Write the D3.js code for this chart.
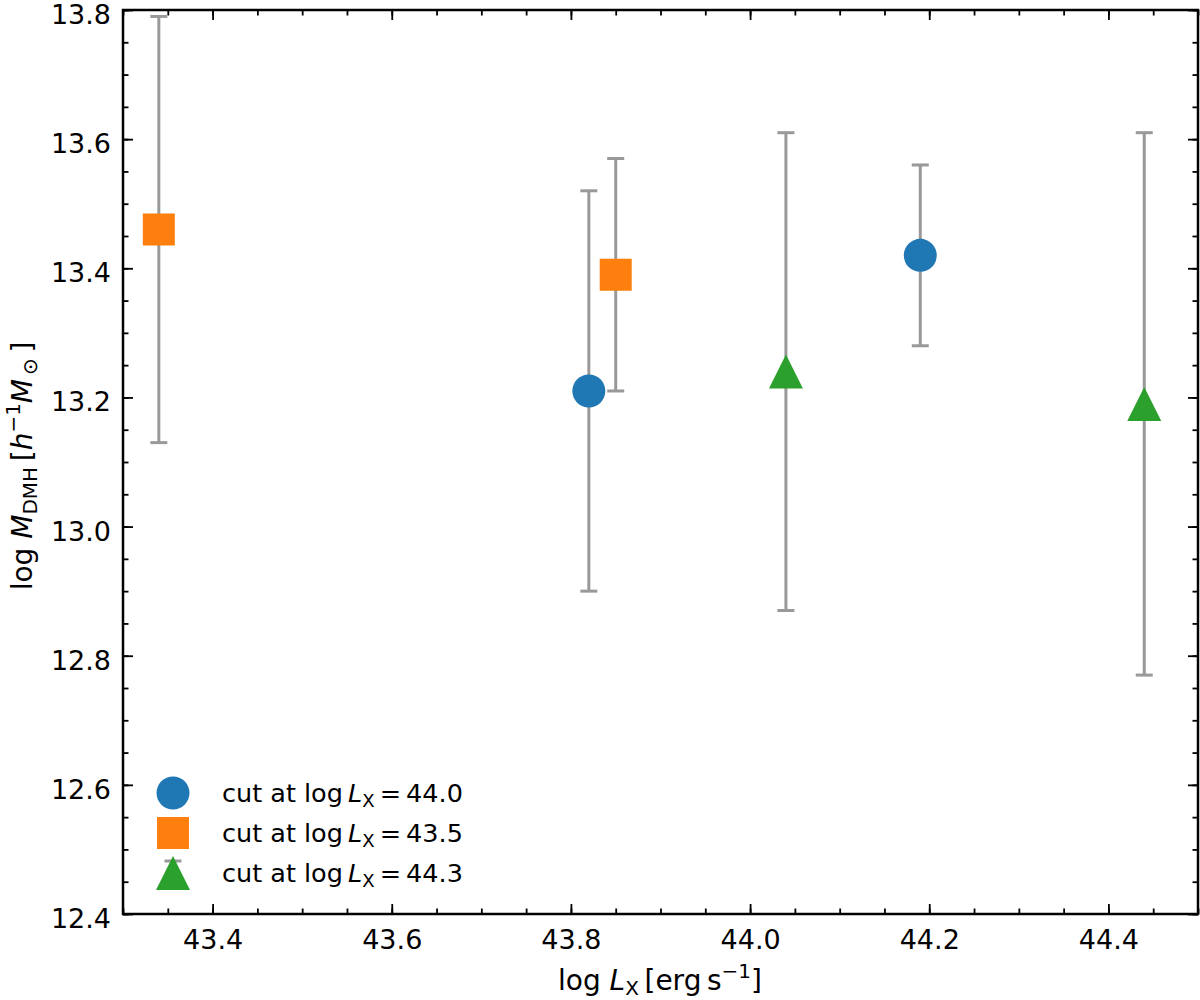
<!DOCTYPE html>
<html>
<head>
<meta charset="utf-8">
<script src="https://cdn.jsdelivr.net/npm/d3@7"></script>
<style>
  body { margin: 0; background: #fff; }
  svg text { font-family: "DejaVu Sans", sans-serif; fill: #000; }
</style>
</head>
<body>
<div id="chart"></div>
<script>
// data
var cutValues = ["44.0", "43.5", "44.3"];
var markers = ["circle", "square", "triangle"];
var colors = ["#1f77b4", "#ff7f0e", "#2ca02c"];

var blueX = [43.82, 44.19];
var blueY = [13.21, 13.42];
var blueLo = [12.90, 13.28];
var blueHi = [13.52, 13.56];

var orangeX = [43.34, 43.85];
var orangeY = [13.46, 13.39];
var orangeLo = [13.13, 13.21];
var orangeHi = [13.79, 13.57];

var greenX = [44.04, 44.44];
var greenY = [13.24, 13.19];
var greenLo = [12.87, 12.77];
var greenHi = [13.61, 13.61];

var xTicks = [43.4, 43.6, 43.8, 44.0, 44.2, 44.4];
var yTicks = [12.4, 12.6, 12.8, 13.0, 13.2, 13.4, 13.6, 13.8];

var W = 1200, H = 1000;
var pL = 123, pR = 1198, pT = 10, pB = 914;

var svg = d3.select("#chart").append("svg").attr("width", W).attr("height", H);

var x = d3.scaleLinear().domain([43.3, 44.5]).range([pL, pR]);
var y = d3.scaleLinear().domain([12.4, 13.8]).range([pB, pT]);

var xMinor = d3.range(43.3, 44.5001, 0.05).map(function(d){ return +d.toFixed(2); });
var yMinor = d3.range(12.4, 13.8001, 0.05).map(function(d){ return +d.toFixed(2); });

// axes, ticks pointing inward on all four sides
function axisGroup(axis, tx, ty) {
  var g = svg.append("g").attr("transform", "translate(" + tx + "," + ty + ")").call(axis);
  g.select(".domain").remove();
  g.selectAll("line").attr("stroke", "#000").attr("stroke-width", 1.8);
  return g;
}
var maj = 10, mnr = 5.5;
axisGroup(d3.axisBottom(x).tickValues(xMinor).tickSize(-mnr).tickFormat(""), 0, pB);
axisGroup(d3.axisTop(x).tickValues(xMinor).tickSize(-mnr).tickFormat(""), 0, pT);
axisGroup(d3.axisLeft(y).tickValues(yMinor).tickSize(-mnr).tickFormat(""), pL, 0);
axisGroup(d3.axisRight(y).tickValues(yMinor).tickSize(-mnr).tickFormat(""), pR, 0);

var gx = axisGroup(d3.axisBottom(x).tickValues(xTicks).tickSize(-maj).tickFormat(d3.format(".1f")), 0, pB);
gx.selectAll("text").attr("font-size", 27).attr("font-family", "DejaVu Sans").attr("dy", null).attr("y", 35);
axisGroup(d3.axisTop(x).tickValues(xTicks).tickSize(-maj).tickFormat(""), 0, pT);
var gy = axisGroup(d3.axisLeft(y).tickValues(yTicks).tickSize(-maj).tickFormat(d3.format(".1f")), pL, 0);
gy.selectAll("text").attr("font-size", 27).attr("font-family", "DejaVu Sans").attr("x", -12).attr("dy", "0.5em");
axisGroup(d3.axisRight(y).tickValues(yTicks).tickSize(-maj).tickFormat(""), pR, 0);

// error bars and markers
var capW = 8.5;
var sym = {
  circle: d3.symbol().type(d3.symbolCircle).size(Math.PI * 16.5 * 16.5),
  square: d3.symbol().type(d3.symbolSquare).size(32 * 32)
};
function markerPath(kind) {
  if (kind === "triangle") return "M0,-17L17,17L-17,17Z";
  return sym[kind]();
}

var series = [
  { xs: blueX, ys: blueY, lo: blueLo, hi: blueHi },
  { xs: orangeX, ys: orangeY, lo: orangeLo, hi: orangeHi },
  { xs: greenX, ys: greenY, lo: greenLo, hi: greenHi }
];

series.forEach(function(s, i) {
  var pts = s.xs.map(function(d, j){ return { x: d, y: s.ys[j], lo: s.lo[j], hi: s.hi[j] }; });
  var g = svg.append("g");
  var eb = g.selectAll("g.eb").data(pts).enter().append("g").attr("stroke", "#999999").attr("stroke-width", 3);
  eb.append("line").attr("x1", function(d){ return x(d.x); }).attr("x2", function(d){ return x(d.x); })
    .attr("y1", function(d){ return y(d.lo); }).attr("y2", function(d){ return y(d.hi); });
  eb.append("line").attr("x1", function(d){ return x(d.x) - capW; }).attr("x2", function(d){ return x(d.x) + capW; })
    .attr("y1", function(d){ return y(d.lo); }).attr("y2", function(d){ return y(d.lo); });
  eb.append("line").attr("x1", function(d){ return x(d.x) - capW; }).attr("x2", function(d){ return x(d.x) + capW; })
    .attr("y1", function(d){ return y(d.hi); }).attr("y2", function(d){ return y(d.hi); });
  g.selectAll("path").data(pts).enter().append("path")
    .attr("d", markerPath(markers[i]))
    .attr("transform", function(d){ return "translate(" + x(d.x) + "," + y(d.y) + ")"; })
    .attr("fill", colors[i]);
});

// legend
var legX = 173, legY0 = 793, legDy = 40;
cutValues.forEach(function(v, i) {
  var cy = legY0 + i * legDy;
  var g = svg.append("g").attr("transform", "translate(" + legX + "," + cy + ")");
  var e = g.append("g").attr("stroke", "#999999").attr("stroke-width", 3);
  e.append("line").attr("x1", 0).attr("x2", 0).attr("y1", -12).attr("y2", 12);
  e.append("line").attr("x1", -capW).attr("x2", capW).attr("y1", -12).attr("y2", -12);
  e.append("line").attr("x1", -capW).attr("x2", capW).attr("y1", 12).attr("y2", 12);
  g.append("path").attr("d", markerPath(markers[i])).attr("fill", colors[i]);
  var t = g.append("text").attr("x", 49).attr("y", 9).attr("font-size", 25.5);
  t.append("tspan").text("cut at log\u2009");
  t.append("tspan").attr("font-style", "italic").text("L");
  t.append("tspan").attr("font-size", 18).attr("dy", 5).text("X");
  t.append("tspan").attr("dy", -5).text("\u2009=\u2009" + v);
});

// axis labels
var xl = svg.append("text").attr("x", 660).attr("y", 990).attr("text-anchor", "middle").attr("font-size", 28);
xl.append("tspan").text("log ");
xl.append("tspan").attr("font-style", "italic").text("L");
xl.append("tspan").attr("font-size", 20).attr("dy", 5).text("X");
xl.append("tspan").attr("dy", -5).text("\u2009[erg\u2009s");
xl.append("tspan").attr("font-size", 20).attr("dy", -12).text("\u22121");
xl.append("tspan").attr("dy", 12).text("]");

var yl = svg.append("text").attr("transform", "translate(32,466) rotate(-90)").attr("text-anchor", "middle").attr("font-size", 28);
yl.append("tspan").text("log ");
yl.append("tspan").attr("font-style", "italic").text("M");
yl.append("tspan").attr("font-size", 20).attr("dy", 5).text("DMH");
yl.append("tspan").attr("dy", -5).text("\u2009[");
yl.append("tspan").attr("font-style", "italic").text("h");
yl.append("tspan").attr("font-size", 20).attr("dy", -12).text("\u22121");
yl.append("tspan").attr("font-style", "italic").attr("dy", 12).text("M");
yl.append("tspan").attr("font-size", 20).attr("dy", 5).text("\u2009\u2299");
yl.append("tspan").attr("dy", -5).text("\u2009]");

// frame
svg.append("rect").attr("x", pL).attr("y", pT).attr("width", pR - pL).attr("height", pB - pT)
  .attr("fill", "none").attr("stroke", "#000").attr("stroke-width", 2.5);
</script>
</body>
</html>
